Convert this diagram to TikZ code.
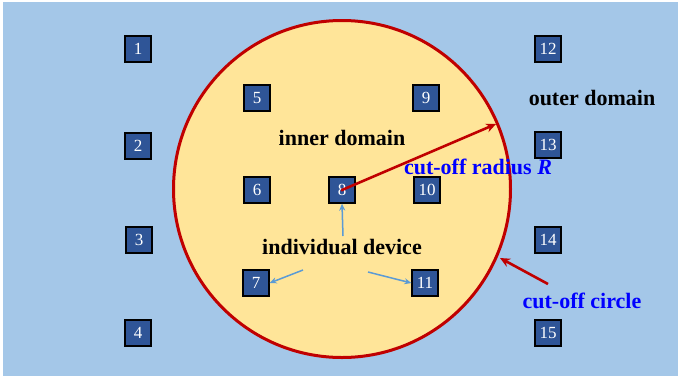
\documentclass[tikz,border=0pt]{standalone}
\usepackage{fontspec}
\setmainfont{Liberation Serif}
\usetikzlibrary{arrows.meta}
\definecolor{bgblue}{RGB}{164,199,232}
\definecolor{circfill}{RGB}{255,229,153}
\definecolor{circred}{RGB}{192,0,0}
\definecolor{boxblue}{RGB}{47,85,151}
\definecolor{arrblue}{RGB}{91,155,213}
\definecolor{txtblue}{RGB}{0,0,255}
\tikzset{
  dev/.style={draw=black, line width=1.3pt, fill=boxblue, minimum size=26pt, inner sep=0pt,
    text=white, font=\fontsize{17}{17}\selectfont},
  lbl/.style={font=\fontsize{22}{22}\selectfont\bfseries, inner sep=0pt},
  bluelbl/.style={lbl, text=txtblue},
  redarrow/.style={draw=circred, line width=2.6pt, -{Stealth[length=10pt,width=9pt]}},
  bluearrow/.style={draw=arrblue, line width=1.5pt, -{Stealth[length=7pt,width=6pt]}}
}
\begin{document}
\begin{tikzpicture}[x=1pt,y=-1pt]
\useasboundingbox (0,0) rectangle (678,376);
\fill[bgblue] (3,2) rectangle (678,376);
\draw[circred, line width=3pt, fill=circfill] (342,189) circle[radius=168.5];
\node[dev] (n1) at (138,49) {1};
\node[dev] (n2) at (138,146) {2};
\node[dev] (n3) at (139,240) {3};
\node[dev] (n4) at (138,333) {4};
\node[dev] (n5) at (257,98) {5};
\node[dev] (n9) at (426,98) {9};
\node[dev] (n6) at (257,190) {6};
\node[dev] (n8) at (342,190) {8};
\node[dev] (n10) at (427,190) {10};
\node[dev] (n7) at (256,283) {7};
\node[dev] (n11) at (425,283) {11};
\node[dev] (n12) at (548,49) {12};
\node[dev] (n13) at (548,145) {13};
\node[dev] (n14) at (548,240) {14};
\node[dev] (n15) at (548,333) {15};
\node[lbl] (outer) at (592,98) {outer domain};
\node[lbl] (inner) at (342,138) {inner domain};
\node[lbl] (indiv) at (342,247) {individual device};
\node[bluelbl] (radius) at (478,167) {cut-off radius \textit{R}};
\node[bluelbl] (circ) at (582,301) {cut-off circle};
\coordinate (rtip) at (496,124);
\coordinate (ctail) at (548,284);
\coordinate (ctip) at (500,258);
\draw[redarrow] (n8.center) -- (rtip);
\fill[circred] (n8.center) circle[radius=1.5];
\draw[redarrow] (ctail) -- (ctip);
\coordinate (b1s) at (343,236);
\coordinate (b2s) at (303,270);
\coordinate (b3s) at (368,272);
\draw[bluearrow] (b1s) -- (n8.south);
\draw[bluearrow] (b2s) -- (n7.east);
\draw[bluearrow] (b3s) -- (n11.west);
\end{tikzpicture}
\end{document}
